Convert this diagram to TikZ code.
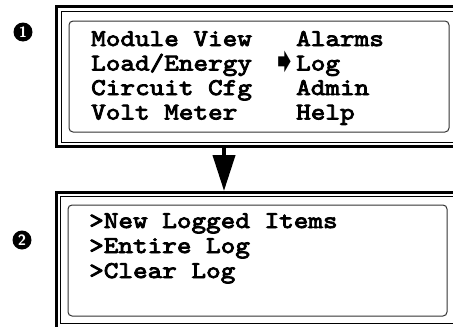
\documentclass[tikz,border=0pt]{standalone}
\usepackage{fontspec}
\newfontfamily\lcdfont[FakeBold=3.5, FakeStretch=1.16]{lmmono10-regular.otf}
\newfontfamily\symfont{DejaVu Sans}
\usetikzlibrary{arrows.meta}

\begin{document}
\begin{tikzpicture}[x=1pt, y=-1pt,
    menutext/.style={anchor=base west, inner sep=0pt, font=\lcdfont\fontsize{24}{24}\selectfont},
    stepmark/.style={inner sep=0pt, text=white, font=\sffamily\bfseries\fontsize{15}{15}\selectfont},
    outerframe/.style={line width=3pt},
    innerframe/.style={line width=1pt},
    screen/.style={line width=1pt, draw=black!80, rounded corners=4pt},
    flow/.style={line width=4pt, -{Triangle[width=22pt,length=36pt]}}]

    \useasboundingbox (0,0) rectangle (453,327);
    \clip (0,0) rectangle (453,327);

    % Top: main menu screen
    \fill (23,32) circle [radius=9.5pt];
    \node[stepmark] (mark1) at (23,32) {1};
    \draw[outerframe] (56.5,6.5) rectangle (470,146); % thick outer frame
    \draw[innerframe] (61.5,11.5) rectangle (470,142.5); % thin inner frame
    \draw[screen] (69,21) rectangle (449,132);
    \node[menutext] (modview) at (91,46) {Module View};
    \node[menutext] (loadenergy) at (91,70.5) {Load/Energy};
    \node[menutext] (circuitcfg) at (91,95) {Circuit Cfg};
    \node[menutext] (voltmeter) at (91,119.5) {Volt Meter};
    \node[menutext] (alarms) at (296,46) {Alarms};
    \node[menutext] (log) at (296,70.5) {Log};
    \node[menutext] (admin) at (296,95) {Admin};
    \node[menutext] (help) at (296,119.5) {Help};
    \node[anchor=east, inner sep=0pt, xshift=3.5pt, font=\symfont\fontsize{34}{34}\selectfont] (pointer) at (log.west |- 0,62) {➧};

    % Bottom: log screen
    \fill (22,240) circle [radius=9.5pt];
    \node[stepmark] (mark2) at (22,240) {2};
    \draw[outerframe] (56.5,192.5) rectangle (470,330); % thick outer frame
    \draw[innerframe] (60.5,196.5) rectangle (470,323.5); % thin inner frame
    \draw[screen] (68,205) rectangle (447,316);
    \node[menutext] (newitems) at (89,228) {>New Logged Items};
    \node[menutext] (entirelog) at (89,253) {>Entire Log};
    \node[menutext] (clearlog) at (89,278) {>Clear Log};

    % Arrow between the screens
    \coordinate (down1) at (224,147);
    \coordinate (down2) at (224,191);
    \draw[flow] (down1) -- (down2);

\end{tikzpicture}
\end{document}
